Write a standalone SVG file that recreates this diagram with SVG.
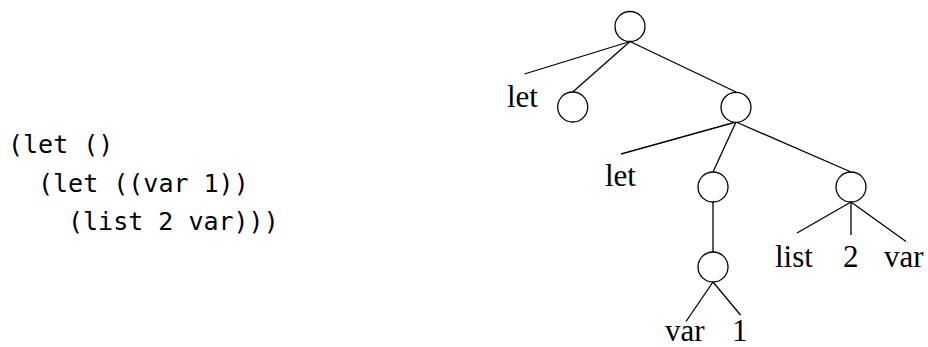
<svg xmlns="http://www.w3.org/2000/svg" width="928" height="347" viewBox="0 0 928 347">
<style>
.code{font-family:"DejaVu Sans Mono","Liberation Mono",monospace;font-size:25px;fill:#000}
.lbl{font-family:"Liberation Serif","DejaVu Serif",serif;font-size:31px;fill:#000}
.node circle{fill:#fff;stroke:#000;stroke-width:1.3}
.edges line{stroke:#000;stroke-width:1.3}
</style>
<rect width="928" height="347" fill="#fff"/>
<g id="code">
<text class="code" x="8" y="153">(let ()</text>
<text class="code" x="38" y="192">(let ((var 1))</text>
<text class="code" x="68" y="230">(list 2 var)))</text>
</g>
<g class="edges" id="connectors">
<line x1="630" y1="41.5" x2="524.5" y2="74"/>
<line x1="630" y1="41.5" x2="572.7" y2="92"/>
<line x1="630" y1="41.5" x2="736" y2="92"/>
<line x1="736" y1="122" x2="621" y2="154"/>
<line x1="736" y1="122" x2="713" y2="172"/>
<line x1="736" y1="122" x2="851" y2="172"/>
<line x1="713" y1="202" x2="713" y2="252"/>
<line x1="713" y1="282" x2="686" y2="321.5"/>
<line x1="713" y1="282" x2="740.5" y2="315"/>
<line x1="851" y1="202" x2="797" y2="233"/>
<line x1="851" y1="202" x2="851" y2="235"/>
<line x1="851" y1="202" x2="906" y2="241.5"/>
</g>
<g class="node" id="root"><circle cx="630" cy="26.5" r="15"/></g>
<g class="node" id="let1-node"><circle cx="572.7" cy="107" r="15"/></g>
<g class="node" id="let2-node"><circle cx="736" cy="107.3" r="15"/></g>
<g class="node" id="bind-node"><circle cx="713" cy="187" r="15"/></g>
<g class="node" id="var-node"><circle cx="713" cy="267" r="15"/></g>
<g class="node" id="list-node"><circle cx="851" cy="187" r="15"/></g>
<g id="labels">
<text class="lbl" x="507" y="107">let</text>
<text class="lbl" x="605" y="186">let</text>
<text class="lbl" x="775" y="267">list</text>
<text class="lbl" x="843" y="267">2</text>
<text class="lbl" x="884" y="267">var</text>
<text class="lbl" x="665" y="341">var</text>
<text class="lbl" x="732" y="341">1</text>
</g>
</svg>
